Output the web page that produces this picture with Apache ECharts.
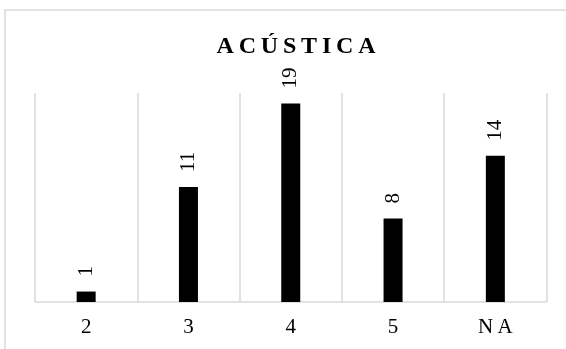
<!DOCTYPE html>
<html>
<head>
<meta charset="utf-8">
<script src="https://cdn.jsdelivr.net/npm/echarts@6/dist/echarts.min.js"></script>
<style>
  html, body { margin: 0; padding: 0; background: #fff; }
  #chart { width: 566px; height: 349px; }
</style>
</head>
<body>
<div id="chart"></div>
<script>
// Respuestas por puntuación
const titleText = 'ACÚSTICA';
const categories = ['2', '3', '4', '5', 'NA'];
const counts = [1, 11, 19, 8, 14];

const SERIF = '"Liberation Serif", "Times New Roman", serif';
// spread letters apart a little, like a tracked heading
const spaced = (s, gap) => s.split('').join(gap);

const chart = echarts.init(document.getElementById('chart'), null, { renderer: 'canvas' });

chart.setOption({
  animation: false,
  backgroundColor: '#ffffff',
  graphic: [{
    type: 'rect',
    shape: { x: 5, y: 10, width: 700, height: 500 },
    style: { fill: 'none', stroke: '#d9d9d9', lineWidth: 1.5 },
    silent: true,
    z: 0
  }],
  title: {
    text: spaced(titleText, '\u2009'),
    left: 291,
    top: 30,
    textAlign: 'center',
    textStyle: {
      fontFamily: SERIF,
      fontSize: 24,
      fontWeight: 'bold',
      color: '#000'
    }
  },
  grid: { left: 35, right: 19.5, top: 93, bottom: 47, containLabel: false },
  xAxis: {
    type: 'category',
    data: categories,
    boundaryGap: true,
    axisLine: { show: true, lineStyle: { color: '#d9d9d9', width: 1.5 } },
    axisTick: { show: false },
    splitLine: { show: true, lineStyle: { color: '#d9d9d9', width: 1.5 } },
    axisLabel: {
      margin: 15,
      fontFamily: SERIF,
      fontSize: 21,
      color: '#000',
      formatter: v => spaced(v, '\u2009')
    }
  },
  yAxis: {
    type: 'value',
    min: 0,
    max: 20,
    show: false,
    splitLine: { show: false }
  },
  series: [{
    type: 'bar',
    data: counts,
    barWidth: 19,
    itemStyle: { color: '#000' },
    label: {
      show: true,
      position: 'top',
      rotate: 90,
      align: 'left',
      verticalAlign: 'middle',
      distance: 15,
      fontFamily: SERIF,
      fontSize: 21,
      color: '#000'
    }
  }]
});
</script>
</body>
</html>
